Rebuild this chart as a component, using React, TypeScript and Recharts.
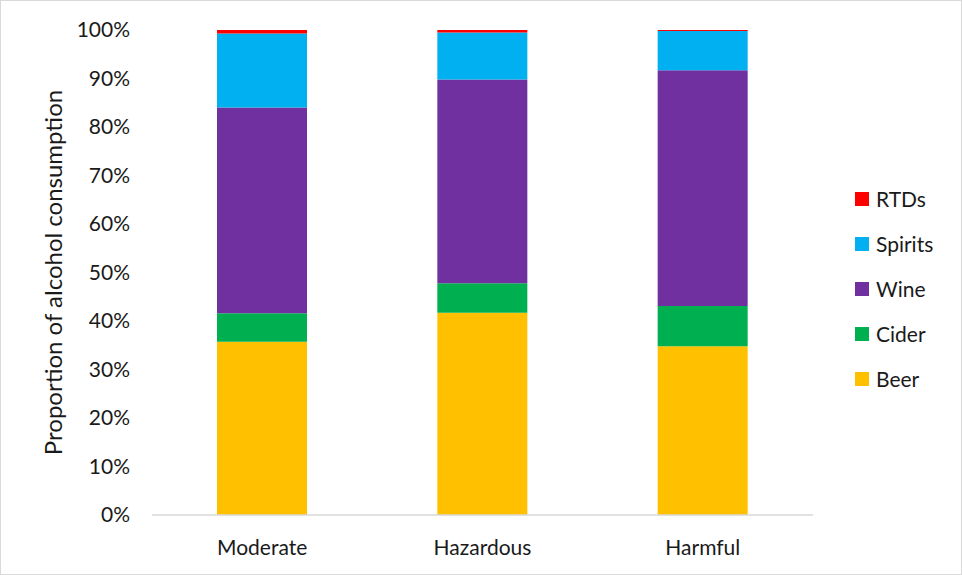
import React from "react";
import { BarChart, Bar, XAxis, YAxis, Label } from "recharts";

const categories = ["Moderate", "Hazardous", "Harmful"];
const beer = [35.7, 41.7, 34.8];
const cider = [5.9, 6.1, 8.3];
const wine = [42.4, 42.0, 48.6];
const spirits = [15.3, 9.7, 8.1];
const rtds = [0.7, 0.5, 0.2];
const yTicks = [0, 10, 20, 30, 40, 50, 60, 70, 80, 90, 100];

const series = [
  { key: "Beer", values: beer, color: "#FFC000" },
  { key: "Cider", values: cider, color: "#00B050" },
  { key: "Wine", values: wine, color: "#7030A0" },
  { key: "Spirits", values: spirits, color: "#00B0F0" },
  { key: "RTDs", values: rtds, color: "#FF0000" },
];

const data = categories.map((c, i) => {
  const row: Record<string, any> = { name: c };
  series.forEach((s) => (row[s.key] = s.values[i]));
  return row;
});

const FONT = "Lato, 'Open Sans', sans-serif";
const TEXT = "#1a1a1a";

const YTitle = (props: any) => {
  const vb = props.viewBox || {};
  const cx = 52;
  const cy = vb.y + vb.height / 2;
  return (
    <text
      x={cx}
      y={cy}
      transform={`rotate(-90, ${cx}, ${cy})`}
      textAnchor="middle"
      dominantBaseline="central"
      fontFamily={FONT}
      fontSize={24}
      fill={TEXT}
    >
      Proportion of alcohol consumption
    </text>
  );
};

export default function App() {
  const legendItems = [...series].reverse();
  return (
    <div
      style={{
        position: "absolute",
        left: 0,
        top: 0,
        width: 962,
        height: 575,
        boxSizing: "border-box",
        border: "1px solid #d9d9d9",
        background: "#fff",
        overflow: "hidden",
      }}
    >
      <div style={{ position: "absolute", left: -1, top: -1 }}>
        <BarChart
          width={962}
          height={575}
          data={data}
          margin={{ top: 30, right: 149, bottom: 0, left: 0 }}
        >
          <XAxis
            dataKey="name"
            height={60}
            tickLine={false}
            axisLine={{ stroke: "#d9d9d9", strokeWidth: 1.5 }}
            tickMargin={19}
            tick={{ fontFamily: FONT, fontSize: 21, fill: TEXT }}
          />
          <YAxis
            width={152}
            domain={[0, 100]}
            ticks={yTicks}
            interval={0}
            axisLine={false}
            tickLine={false}
            tickSize={0}
            tickMargin={22}
            tickFormatter={(v: number) => `${v}%`}
            tick={{ fontFamily: FONT, fontSize: 21, fill: TEXT }}
          >
            <Label content={<YTitle />} />
          </YAxis>
          {series.map((s) => (
            <Bar
              key={s.key}
              dataKey={s.key}
              stackId="a"
              fill={s.color}
              barSize={90}
              isAnimationActive={false}
            />
          ))}
        </BarChart>
      </div>
      <div style={{ position: "absolute", left: 854, top: 186 }}>
        {legendItems.map((s) => (
          <div
            key={s.key}
            style={{
              display: "flex",
              alignItems: "center",
              height: 44.8,
              fontFamily: FONT,
              fontSize: 21,
              color: TEXT,
              lineHeight: "26px",
              position: "relative",
              top: -10,
            }}
          >
            <span
              style={{
                display: "inline-block",
                width: 14,
                height: 14,
                background: s.color,
                marginRight: 7,
              }}
            />
            <span>{s.key}</span>
          </div>
        ))}
      </div>
    </div>
  );
}
